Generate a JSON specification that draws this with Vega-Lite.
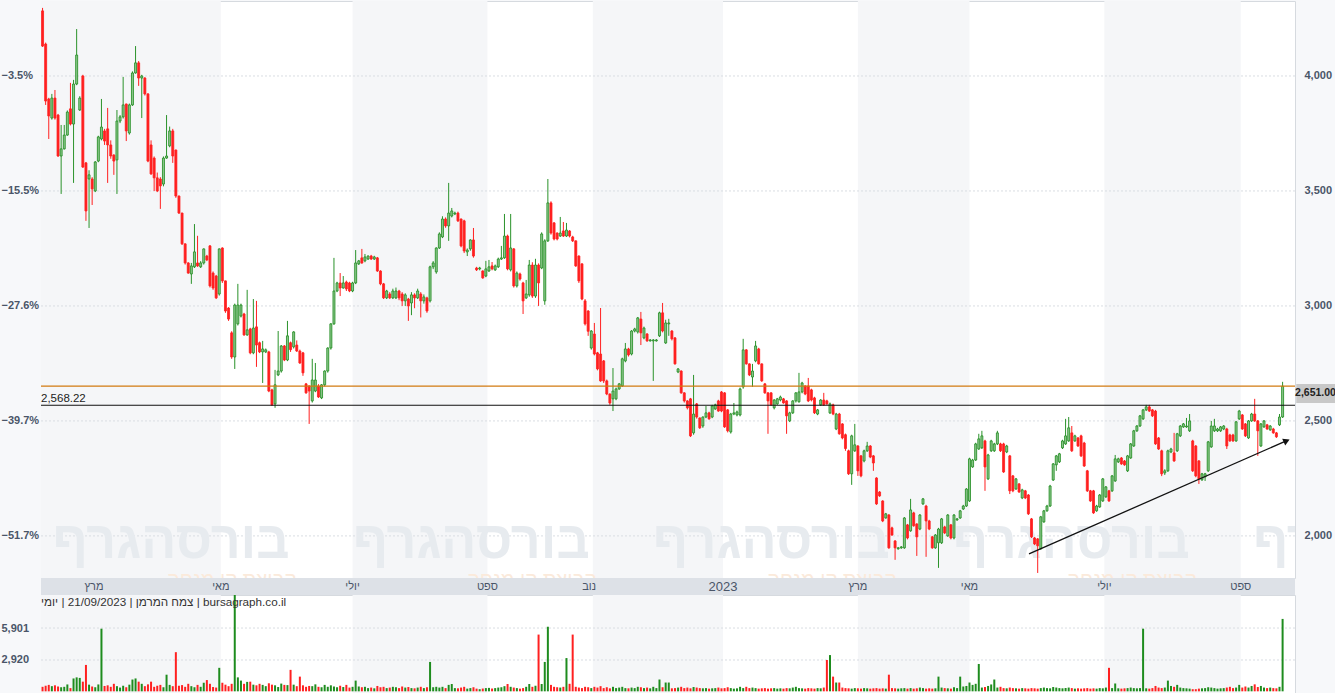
{
"$schema":"https://vega.github.io/schema/vega-lite/v6.json",
"background":"#f7f8fa",
"padding":0,
"autosize":{"type":"pad"},
"spacing":0,
"bounds":"flush",
"config":{"font":"Liberation Sans","view":{"stroke":null},"scale":{"continuousPadding":0}},
"datasets":{
"c":[
{"i":0,"o":4283,"h":4296,"l":4126,"c":4130,"v":420},
{"i":1,"o":4139,"h":4145,"l":3874,"c":3891,"v":520},
{"i":2,"o":3900,"h":3905,"l":3726,"c":3826,"v":600},
{"i":3,"o":3817,"h":3922,"l":3810,"c":3904,"v":480},
{"i":4,"o":3904,"h":3939,"l":3810,"c":3817,"v":560},
{"i":5,"o":3830,"h":3835,"l":3648,"c":3652,"v":450},
{"i":6,"o":3652,"h":3787,"l":3487,"c":3683,"v":380},
{"i":7,"o":3683,"h":3787,"l":3680,"c":3743,"v":420},
{"i":8,"o":3743,"h":3850,"l":3740,"c":3843,"v":640},
{"i":9,"o":3857,"h":3970,"l":3785,"c":3791,"v":300},
{"i":10,"o":3791,"h":3983,"l":3535,"c":3965,"v":1200},
{"i":11,"o":3965,"h":4204,"l":3960,"c":4091,"v":1300},
{"i":12,"o":3852,"h":3912,"l":3848,"c":3904,"v":1250},
{"i":13,"o":4000,"h":4005,"l":3600,"c":3604,"v":900},
{"i":14,"o":3622,"h":3626,"l":3370,"c":3413,"v":2460},
{"i":15,"o":3552,"h":3590,"l":3339,"c":3570,"v":620},
{"i":16,"o":3552,"h":3560,"l":3439,"c":3509,"v":450},
{"i":17,"o":3500,"h":3630,"l":3495,"c":3626,"v":380},
{"i":18,"o":3630,"h":3740,"l":3625,"c":3735,"v":640},
{"i":19,"o":3726,"h":3900,"l":3720,"c":3778,"v":5840},
{"i":20,"o":3761,"h":3770,"l":3700,"c":3717,"v":500},
{"i":21,"o":3770,"h":3861,"l":3535,"c":3700,"v":560},
{"i":22,"o":3700,"h":3720,"l":3640,"c":3652,"v":420},
{"i":23,"o":3656,"h":3660,"l":3570,"c":3630,"v":700},
{"i":24,"o":3635,"h":3852,"l":3487,"c":3804,"v":480},
{"i":25,"o":3804,"h":3830,"l":3795,"c":3822,"v":350},
{"i":26,"o":3822,"h":3996,"l":3815,"c":3874,"v":520},
{"i":27,"o":3878,"h":3880,"l":3717,"c":3761,"v":380},
{"i":28,"o":3752,"h":3880,"l":3745,"c":3874,"v":620},
{"i":29,"o":3874,"h":4020,"l":3870,"c":4013,"v":1100},
{"i":30,"o":4013,"h":4130,"l":4010,"c":4057,"v":1200},
{"i":31,"o":4057,"h":4065,"l":3957,"c":3991,"v":900},
{"i":32,"o":3991,"h":4005,"l":3817,"c":4000,"v":700},
{"i":33,"o":3991,"h":3995,"l":3915,"c":3922,"v":480},
{"i":34,"o":3922,"h":3925,"l":3625,"c":3630,"v":650},
{"i":35,"o":3700,"h":3720,"l":3570,"c":3574,"v":900},
{"i":36,"o":3643,"h":3650,"l":3500,"c":3557,"v":420},
{"i":37,"o":3557,"h":3580,"l":3495,"c":3500,"v":520},
{"i":38,"o":3552,"h":3560,"l":3422,"c":3522,"v":600},
{"i":39,"o":3530,"h":3650,"l":3520,"c":3643,"v":380},
{"i":40,"o":3643,"h":3830,"l":3640,"c":3652,"v":1550},
{"i":41,"o":3696,"h":3780,"l":3690,"c":3761,"v":600},
{"i":42,"o":3761,"h":3770,"l":3622,"c":3652,"v":480},
{"i":43,"o":3678,"h":3680,"l":3470,"c":3478,"v":3650},
{"i":44,"o":3478,"h":3480,"l":3400,"c":3404,"v":520},
{"i":45,"o":3404,"h":3405,"l":3265,"c":3270,"v":580},
{"i":46,"o":3270,"h":3272,"l":3180,"c":3187,"v":420},
{"i":47,"o":3187,"h":3190,"l":3140,"c":3143,"v":700},
{"i":48,"o":3139,"h":3187,"l":3096,"c":3174,"v":480},
{"i":49,"o":3170,"h":3356,"l":3165,"c":3235,"v":380},
{"i":50,"o":3187,"h":3305,"l":3170,"c":3174,"v":600},
{"i":51,"o":3170,"h":3195,"l":3165,"c":3187,"v":420},
{"i":52,"o":3187,"h":3250,"l":3180,"c":3248,"v":800},
{"i":53,"o":3217,"h":3222,"l":3195,"c":3200,"v":1050},
{"i":54,"o":3261,"h":3265,"l":3080,"c":3087,"v":700},
{"i":55,"o":3143,"h":3150,"l":3070,"c":3078,"v":400},
{"i":56,"o":3130,"h":3135,"l":3030,"c":3035,"v":350},
{"i":57,"o":3052,"h":3250,"l":3045,"c":3248,"v":2190},
{"i":58,"o":3252,"h":3255,"l":3100,"c":3109,"v":800},
{"i":59,"o":3109,"h":3110,"l":2970,"c":2978,"v":620},
{"i":60,"o":2991,"h":2995,"l":2935,"c":2943,"v":480},
{"i":61,"o":2883,"h":2890,"l":2770,"c":2778,"v":700},
{"i":62,"o":2778,"h":3010,"l":2726,"c":3004,"v":9500},
{"i":63,"o":2922,"h":3096,"l":2915,"c":3004,"v":1300},
{"i":64,"o":2956,"h":3010,"l":2950,"c":3004,"v":1000},
{"i":65,"o":2965,"h":2970,"l":2870,"c":2874,"v":700},
{"i":66,"o":2874,"h":3070,"l":2870,"c":2896,"v":880},
{"i":67,"o":2900,"h":2905,"l":2790,"c":2796,"v":900},
{"i":68,"o":2796,"h":3030,"l":2790,"c":2904,"v":620},
{"i":69,"o":2909,"h":3022,"l":2735,"c":2830,"v":560},
{"i":70,"o":2840,"h":2845,"l":2795,"c":2800,"v":700},
{"i":71,"o":2800,"h":2848,"l":2665,"c":2813,"v":600},
{"i":72,"o":2800,"h":2815,"l":2795,"c":2809,"v":480},
{"i":73,"o":2800,"h":2805,"l":2625,"c":2630,"v":750},
{"i":74,"o":2635,"h":2640,"l":2565,"c":2570,"v":620},
{"i":75,"o":2574,"h":2722,"l":2557,"c":2657,"v":560},
{"i":76,"o":2700,"h":2891,"l":2695,"c":2717,"v":400},
{"i":77,"o":2717,"h":2830,"l":2710,"c":2826,"v":720},
{"i":78,"o":2826,"h":2830,"l":2760,"c":2765,"v":600},
{"i":79,"o":2765,"h":2935,"l":2760,"c":2870,"v":580},
{"i":80,"o":2840,"h":2845,"l":2800,"c":2810,"v":2000},
{"i":81,"o":2822,"h":2890,"l":2815,"c":2887,"v":620},
{"i":82,"o":2830,"h":2850,"l":2800,"c":2804,"v":480},
{"i":83,"o":2804,"h":2810,"l":2748,"c":2752,"v":1370},
{"i":84,"o":2796,"h":2800,"l":2696,"c":2709,"v":560},
{"i":85,"o":2661,"h":2665,"l":2618,"c":2622,"v":420},
{"i":86,"o":2652,"h":2655,"l":2487,"c":2630,"v":500},
{"i":87,"o":2587,"h":2770,"l":2580,"c":2678,"v":480},
{"i":88,"o":2630,"h":2752,"l":2625,"c":2678,"v":650},
{"i":89,"o":2652,"h":2660,"l":2600,"c":2604,"v":420},
{"i":90,"o":2600,"h":2660,"l":2595,"c":2657,"v":380},
{"i":91,"o":2657,"h":2720,"l":2650,"c":2717,"v":600},
{"i":92,"o":2717,"h":2820,"l":2710,"c":2817,"v":420},
{"i":93,"o":2817,"h":2925,"l":2810,"c":2922,"v":560},
{"i":94,"o":2922,"h":3209,"l":2918,"c":3065,"v":450},
{"i":95,"o":3065,"h":3105,"l":3060,"c":3100,"v":380},
{"i":96,"o":3100,"h":3143,"l":3043,"c":3078,"v":520},
{"i":97,"o":3078,"h":3130,"l":3075,"c":3100,"v":400},
{"i":98,"o":3104,"h":3110,"l":3065,"c":3074,"v":600},
{"i":99,"o":3100,"h":3105,"l":3060,"c":3065,"v":350},
{"i":100,"o":3065,"h":3105,"l":3060,"c":3100,"v":420},
{"i":101,"o":3100,"h":3243,"l":3095,"c":3187,"v":1000},
{"i":102,"o":3183,"h":3200,"l":3178,"c":3196,"v":450},
{"i":103,"o":3209,"h":3248,"l":3183,"c":3187,"v":380},
{"i":104,"o":3196,"h":3226,"l":3190,"c":3213,"v":420},
{"i":105,"o":3204,"h":3220,"l":3200,"c":3217,"v":300},
{"i":106,"o":3217,"h":3222,"l":3200,"c":3204,"v":350},
{"i":107,"o":3204,"h":3218,"l":3200,"c":3213,"v":280},
{"i":108,"o":3209,"h":3213,"l":3148,"c":3152,"v":500},
{"i":109,"o":3152,"h":3155,"l":3090,"c":3096,"v":380},
{"i":110,"o":3096,"h":3100,"l":3030,"c":3035,"v":420},
{"i":111,"o":3035,"h":3070,"l":3030,"c":3065,"v":300},
{"i":112,"o":3052,"h":3060,"l":3030,"c":3035,"v":350},
{"i":113,"o":3035,"h":3075,"l":3030,"c":3065,"v":420},
{"i":114,"o":3035,"h":3080,"l":3030,"c":3065,"v":380},
{"i":115,"o":3065,"h":3070,"l":3025,"c":3035,"v":300},
{"i":116,"o":3052,"h":3060,"l":3000,"c":3022,"v":450},
{"i":117,"o":3022,"h":3055,"l":3000,"c":3048,"v":350},
{"i":118,"o":3030,"h":3035,"l":2935,"c":3000,"v":400},
{"i":119,"o":3013,"h":3060,"l":2960,"c":3048,"v":300},
{"i":120,"o":3048,"h":3055,"l":2990,"c":3035,"v":280},
{"i":121,"o":3035,"h":3075,"l":3030,"c":3065,"v":350},
{"i":122,"o":3052,"h":3060,"l":2950,"c":3022,"v":420},
{"i":123,"o":3022,"h":3050,"l":3010,"c":3039,"v":300},
{"i":124,"o":3035,"h":3040,"l":2970,"c":2978,"v":380},
{"i":125,"o":3022,"h":3175,"l":3015,"c":3170,"v":2740},
{"i":126,"o":3170,"h":3195,"l":3160,"c":3187,"v":380},
{"i":127,"o":3148,"h":3255,"l":3140,"c":3252,"v":420},
{"i":128,"o":3252,"h":3320,"l":3248,"c":3313,"v":350},
{"i":129,"o":3300,"h":3390,"l":3295,"c":3378,"v":420},
{"i":130,"o":3378,"h":3385,"l":3340,"c":3348,"v":300},
{"i":131,"o":3348,"h":3535,"l":3283,"c":3404,"v":600},
{"i":132,"o":3391,"h":3426,"l":3385,"c":3413,"v":680},
{"i":133,"o":3400,"h":3410,"l":3395,"c":3404,"v":300},
{"i":134,"o":3404,"h":3410,"l":3365,"c":3370,"v":280},
{"i":135,"o":3378,"h":3380,"l":3255,"c":3261,"v":350},
{"i":136,"o":3370,"h":3375,"l":3230,"c":3239,"v":420},
{"i":137,"o":3235,"h":3250,"l":3217,"c":3243,"v":250},
{"i":138,"o":3248,"h":3290,"l":3240,"c":3287,"v":300},
{"i":139,"o":3287,"h":3339,"l":3210,"c":3217,"v":380},
{"i":140,"o":3165,"h":3170,"l":3152,"c":3157,"v":250},
{"i":141,"o":3161,"h":3170,"l":3155,"c":3165,"v":200},
{"i":142,"o":3152,"h":3155,"l":3118,"c":3122,"v":260},
{"i":143,"o":3130,"h":3196,"l":3125,"c":3161,"v":300},
{"i":144,"o":3152,"h":3200,"l":3148,"c":3170,"v":320},
{"i":145,"o":3174,"h":3191,"l":3155,"c":3161,"v":260},
{"i":146,"o":3157,"h":3180,"l":3152,"c":3174,"v":300},
{"i":147,"o":3170,"h":3210,"l":3165,"c":3204,"v":350},
{"i":148,"o":3204,"h":3261,"l":3200,"c":3209,"v":380},
{"i":149,"o":3209,"h":3400,"l":3205,"c":3304,"v":480},
{"i":150,"o":3304,"h":3310,"l":3155,"c":3161,"v":680},
{"i":151,"o":3157,"h":3400,"l":3150,"c":3252,"v":420},
{"i":152,"o":3248,"h":3252,"l":3080,"c":3087,"v":350},
{"i":153,"o":3087,"h":3150,"l":3080,"c":3143,"v":300},
{"i":154,"o":3139,"h":3145,"l":3110,"c":3117,"v":250},
{"i":155,"o":3100,"h":3105,"l":2965,"c":3022,"v":300},
{"i":156,"o":3035,"h":3113,"l":3030,"c":3052,"v":420},
{"i":157,"o":3048,"h":3200,"l":3040,"c":3178,"v":680},
{"i":158,"o":3178,"h":3190,"l":3035,"c":3043,"v":420},
{"i":159,"o":3043,"h":3205,"l":3035,"c":3178,"v":520},
{"i":160,"o":3178,"h":3185,"l":3000,"c":3100,"v":5290},
{"i":161,"o":3165,"h":3320,"l":3160,"c":3313,"v":680},
{"i":162,"o":3022,"h":3290,"l":3005,"c":3283,"v":2740},
{"i":163,"o":3283,"h":3552,"l":3278,"c":3448,"v":6020},
{"i":164,"o":3448,"h":3455,"l":3310,"c":3317,"v":600},
{"i":165,"o":3361,"h":3365,"l":3285,"c":3291,"v":420},
{"i":166,"o":3317,"h":3320,"l":3285,"c":3291,"v":380},
{"i":167,"o":3304,"h":3387,"l":3300,"c":3317,"v":350},
{"i":168,"o":3326,"h":3365,"l":3300,"c":3304,"v":420},
{"i":169,"o":3304,"h":3361,"l":3300,"c":3330,"v":3100},
{"i":170,"o":3326,"h":3330,"l":3298,"c":3304,"v":700},
{"i":171,"o":3300,"h":3305,"l":3278,"c":3283,"v":5290},
{"i":172,"o":3283,"h":3285,"l":3170,"c":3174,"v":420},
{"i":173,"o":3217,"h":3220,"l":3100,"c":3109,"v":350},
{"i":174,"o":3183,"h":3185,"l":3025,"c":3030,"v":300},
{"i":175,"o":3022,"h":3030,"l":2915,"c":2922,"v":420},
{"i":176,"o":2978,"h":2982,"l":2870,"c":2890,"v":380},
{"i":177,"o":2817,"h":2895,"l":2810,"c":2891,"v":300},
{"i":178,"o":2878,"h":2926,"l":2785,"c":2791,"v":420},
{"i":179,"o":2796,"h":2800,"l":2720,"c":2726,"v":350},
{"i":180,"o":2791,"h":2991,"l":2670,"c":2674,"v":480},
{"i":181,"o":2761,"h":2765,"l":2665,"c":2674,"v":300},
{"i":182,"o":2674,"h":2680,"l":2612,"c":2617,"v":380},
{"i":183,"o":2617,"h":2620,"l":2570,"c":2578,"v":280},
{"i":184,"o":2596,"h":2730,"l":2543,"c":2630,"v":420},
{"i":185,"o":2596,"h":2645,"l":2590,"c":2639,"v":300},
{"i":186,"o":2639,"h":2665,"l":2635,"c":2661,"v":350},
{"i":187,"o":2652,"h":2775,"l":2648,"c":2770,"v":420},
{"i":188,"o":2761,"h":2839,"l":2755,"c":2813,"v":300},
{"i":189,"o":2813,"h":2818,"l":2780,"c":2787,"v":280},
{"i":190,"o":2791,"h":2895,"l":2785,"c":2891,"v":350},
{"i":191,"o":2891,"h":2905,"l":2885,"c":2900,"v":300},
{"i":192,"o":2887,"h":2952,"l":2880,"c":2948,"v":420},
{"i":193,"o":2943,"h":2974,"l":2830,"c":2883,"v":380},
{"i":194,"o":2861,"h":2910,"l":2855,"c":2904,"v":300},
{"i":195,"o":2878,"h":2882,"l":2844,"c":2848,"v":350},
{"i":196,"o":2848,"h":2856,"l":2845,"c":2852,"v":280},
{"i":197,"o":2848,"h":2856,"l":2674,"c":2852,"v":420},
{"i":198,"o":2848,"h":2856,"l":2845,"c":2852,"v":300},
{"i":199,"o":2870,"h":2975,"l":2865,"c":2970,"v":1100},
{"i":200,"o":2970,"h":3013,"l":2885,"c":2891,"v":380},
{"i":201,"o":2839,"h":2940,"l":2835,"c":2926,"v":820},
{"i":202,"o":2922,"h":2944,"l":2870,"c":2926,"v":820},
{"i":203,"o":2891,"h":2895,"l":2850,"c":2857,"v":280},
{"i":204,"o":2861,"h":2865,"l":2745,"c":2748,"v":300},
{"i":205,"o":2713,"h":2730,"l":2708,"c":2726,"v":350},
{"i":206,"o":2717,"h":2720,"l":2618,"c":2622,"v":420},
{"i":207,"o":2622,"h":2625,"l":2580,"c":2587,"v":300},
{"i":208,"o":2587,"h":2590,"l":2550,"c":2557,"v":350},
{"i":209,"o":2596,"h":2600,"l":2430,"c":2435,"v":280},
{"i":210,"o":2448,"h":2700,"l":2440,"c":2530,"v":400},
{"i":211,"o":2574,"h":2578,"l":2510,"c":2517,"v":350},
{"i":212,"o":2513,"h":2515,"l":2465,"c":2470,"v":300},
{"i":213,"o":2478,"h":2520,"l":2470,"c":2517,"v":280},
{"i":214,"o":2517,"h":2565,"l":2512,"c":2535,"v":300},
{"i":215,"o":2535,"h":2540,"l":2505,"c":2509,"v":250},
{"i":216,"o":2517,"h":2570,"l":2512,"c":2565,"v":280},
{"i":217,"o":2552,"h":2575,"l":2548,"c":2570,"v":300},
{"i":218,"o":2587,"h":2592,"l":2540,"c":2543,"v":350},
{"i":219,"o":2626,"h":2630,"l":2538,"c":2543,"v":280},
{"i":220,"o":2622,"h":2625,"l":2470,"c":2474,"v":300},
{"i":221,"o":2548,"h":2552,"l":2450,"c":2457,"v":380},
{"i":222,"o":2452,"h":2535,"l":2445,"c":2530,"v":300},
{"i":223,"o":2530,"h":2578,"l":2525,"c":2535,"v":250},
{"i":224,"o":2526,"h":2545,"l":2520,"c":2539,"v":280},
{"i":225,"o":2526,"h":2645,"l":2520,"c":2639,"v":420},
{"i":226,"o":2648,"h":2857,"l":2640,"c":2809,"v":300},
{"i":227,"o":2809,"h":2812,"l":2745,"c":2748,"v":420},
{"i":228,"o":2748,"h":2750,"l":2695,"c":2700,"v":300},
{"i":229,"o":2691,"h":2748,"l":2648,"c":2717,"v":350},
{"i":230,"o":2761,"h":2848,"l":2755,"c":2826,"v":300},
{"i":231,"o":2813,"h":2818,"l":2745,"c":2748,"v":250},
{"i":232,"o":2748,"h":2750,"l":2670,"c":2674,"v":280},
{"i":233,"o":2661,"h":2665,"l":2618,"c":2622,"v":300},
{"i":234,"o":2622,"h":2625,"l":2444,"c":2587,"v":250},
{"i":235,"o":2622,"h":2625,"l":2565,"c":2570,"v":280},
{"i":236,"o":2557,"h":2595,"l":2550,"c":2591,"v":300},
{"i":237,"o":2574,"h":2600,"l":2570,"c":2596,"v":250},
{"i":238,"o":2591,"h":2610,"l":2585,"c":2604,"v":280},
{"i":239,"o":2596,"h":2600,"l":2575,"c":2578,"v":250},
{"i":240,"o":2587,"h":2590,"l":2444,"c":2522,"v":300},
{"i":241,"o":2500,"h":2540,"l":2495,"c":2535,"v":280},
{"i":242,"o":2535,"h":2590,"l":2530,"c":2587,"v":350},
{"i":243,"o":2587,"h":2625,"l":2580,"c":2622,"v":420},
{"i":244,"o":2583,"h":2709,"l":2580,"c":2626,"v":300},
{"i":245,"o":2626,"h":2670,"l":2620,"c":2665,"v":280},
{"i":246,"o":2652,"h":2655,"l":2612,"c":2617,"v":250},
{"i":247,"o":2652,"h":2687,"l":2582,"c":2587,"v":300},
{"i":248,"o":2635,"h":2640,"l":2585,"c":2591,"v":280},
{"i":249,"o":2600,"h":2605,"l":2530,"c":2535,"v":250},
{"i":250,"o":2530,"h":2552,"l":2525,"c":2548,"v":300},
{"i":251,"o":2570,"h":2595,"l":2565,"c":2591,"v":280},
{"i":252,"o":2591,"h":2622,"l":2565,"c":2570,"v":350},
{"i":253,"o":2587,"h":2592,"l":2570,"c":2574,"v":2920},
{"i":254,"o":2535,"h":2580,"l":2530,"c":2574,"v":3380},
{"i":255,"o":2570,"h":2575,"l":2525,"c":2530,"v":1370},
{"i":256,"o":2465,"h":2535,"l":2460,"c":2530,"v":820},
{"i":257,"o":2530,"h":2535,"l":2440,"c":2444,"v":820},
{"i":258,"o":2487,"h":2490,"l":2420,"c":2426,"v":350},
{"i":259,"o":2440,"h":2445,"l":2370,"c":2380,"v":300},
{"i":260,"o":2370,"h":2375,"l":2265,"c":2270,"v":280},
{"i":261,"o":2270,"h":2440,"l":2222,"c":2435,"v":250},
{"i":262,"o":2370,"h":2487,"l":2365,"c":2396,"v":300},
{"i":263,"o":2391,"h":2395,"l":2261,"c":2283,"v":280},
{"i":264,"o":2348,"h":2352,"l":2255,"c":2261,"v":250},
{"i":265,"o":2326,"h":2375,"l":2320,"c":2370,"v":300},
{"i":266,"o":2370,"h":2409,"l":2365,"c":2391,"v":280},
{"i":267,"o":2391,"h":2395,"l":2338,"c":2343,"v":250},
{"i":268,"o":2348,"h":2352,"l":2283,"c":2317,"v":280},
{"i":269,"o":2252,"h":2255,"l":2135,"c":2139,"v":300},
{"i":270,"o":2191,"h":2195,"l":2170,"c":2174,"v":250},
{"i":271,"o":2152,"h":2155,"l":2060,"c":2065,"v":280},
{"i":272,"o":2078,"h":2100,"l":2075,"c":2096,"v":250},
{"i":273,"o":2091,"h":2095,"l":1944,"c":1948,"v":1550},
{"i":274,"o":2035,"h":2040,"l":2000,"c":2004,"v":300},
{"i":275,"o":1978,"h":1982,"l":1896,"c":1948,"v":280},
{"i":276,"o":1944,"h":1952,"l":1940,"c":1948,"v":250},
{"i":277,"o":1948,"h":1956,"l":1944,"c":1952,"v":280},
{"i":278,"o":1948,"h":2082,"l":1944,"c":2078,"v":300},
{"i":279,"o":2048,"h":2052,"l":1985,"c":1991,"v":250},
{"i":280,"o":2022,"h":2161,"l":2018,"c":2113,"v":300},
{"i":281,"o":2100,"h":2105,"l":2040,"c":2044,"v":250},
{"i":282,"o":2052,"h":2055,"l":1913,"c":1996,"v":280},
{"i":283,"o":2030,"h":2095,"l":2025,"c":2091,"v":350},
{"i":284,"o":2139,"h":2165,"l":2135,"c":2161,"v":300},
{"i":285,"o":2130,"h":2135,"l":1909,"c":2065,"v":250},
{"i":286,"o":2065,"h":2070,"l":2025,"c":2030,"v":280},
{"i":287,"o":1996,"h":2000,"l":1944,"c":1948,"v":250},
{"i":288,"o":1948,"h":2008,"l":1944,"c":2004,"v":280},
{"i":289,"o":1970,"h":2035,"l":1861,"c":2030,"v":1370},
{"i":290,"o":1970,"h":2078,"l":1965,"c":2074,"v":350},
{"i":291,"o":2039,"h":2044,"l":2008,"c":2013,"v":300},
{"i":292,"o":2000,"h":2095,"l":1996,"c":2091,"v":280},
{"i":293,"o":2048,"h":2052,"l":1985,"c":1991,"v":250},
{"i":294,"o":1991,"h":2095,"l":1985,"c":2091,"v":380},
{"i":295,"o":2070,"h":2078,"l":2065,"c":2074,"v":300},
{"i":296,"o":2078,"h":2113,"l":2074,"c":2109,"v":1370},
{"i":297,"o":2117,"h":2135,"l":2113,"c":2130,"v":450},
{"i":298,"o":2130,"h":2208,"l":2126,"c":2204,"v":500},
{"i":299,"o":2152,"h":2340,"l":2148,"c":2335,"v":820},
{"i":300,"o":2300,"h":2335,"l":2296,"c":2330,"v":600},
{"i":301,"o":2330,"h":2405,"l":2326,"c":2400,"v":700},
{"i":302,"o":2378,"h":2444,"l":2374,"c":2422,"v":2550},
{"i":303,"o":2383,"h":2457,"l":2378,"c":2435,"v":350},
{"i":304,"o":2413,"h":2418,"l":2196,"c":2300,"v":400},
{"i":305,"o":2248,"h":2357,"l":2243,"c":2352,"v":500},
{"i":306,"o":2370,"h":2418,"l":2365,"c":2413,"v":640},
{"i":307,"o":2370,"h":2405,"l":2365,"c":2400,"v":1100},
{"i":308,"o":2400,"h":2457,"l":2395,"c":2448,"v":350},
{"i":309,"o":2400,"h":2405,"l":2365,"c":2370,"v":420},
{"i":310,"o":2400,"h":2405,"l":2274,"c":2278,"v":300},
{"i":311,"o":2365,"h":2396,"l":2360,"c":2391,"v":280},
{"i":312,"o":2348,"h":2352,"l":2182,"c":2196,"v":350},
{"i":313,"o":2261,"h":2265,"l":2190,"c":2196,"v":300},
{"i":314,"o":2204,"h":2252,"l":2200,"c":2248,"v":280},
{"i":315,"o":2226,"h":2230,"l":2187,"c":2191,"v":250},
{"i":316,"o":2165,"h":2205,"l":2160,"c":2200,"v":300},
{"i":317,"o":2196,"h":2200,"l":2160,"c":2165,"v":280},
{"i":318,"o":2178,"h":2182,"l":2091,"c":2096,"v":250},
{"i":319,"o":2074,"h":2078,"l":1991,"c":1996,"v":300},
{"i":320,"o":1991,"h":1995,"l":1960,"c":1965,"v":280},
{"i":321,"o":1987,"h":1991,"l":1839,"c":1957,"v":250},
{"i":322,"o":1944,"h":2087,"l":1940,"c":2083,"v":300},
{"i":323,"o":2061,"h":2113,"l":2057,"c":2109,"v":350},
{"i":324,"o":2109,"h":2135,"l":2105,"c":2130,"v":300},
{"i":325,"o":2130,"h":2222,"l":2126,"c":2217,"v":280},
{"i":326,"o":2243,"h":2317,"l":2239,"c":2313,"v":400},
{"i":327,"o":2309,"h":2352,"l":2283,"c":2348,"v":350},
{"i":328,"o":2322,"h":2361,"l":2317,"c":2357,"v":300},
{"i":329,"o":2383,"h":2418,"l":2378,"c":2413,"v":280},
{"i":330,"o":2400,"h":2509,"l":2396,"c":2435,"v":300},
{"i":331,"o":2413,"h":2517,"l":2409,"c":2470,"v":350},
{"i":332,"o":2448,"h":2478,"l":2365,"c":2370,"v":300},
{"i":333,"o":2413,"h":2440,"l":2409,"c":2435,"v":250},
{"i":334,"o":2426,"h":2430,"l":2387,"c":2391,"v":280},
{"i":335,"o":2435,"h":2440,"l":2343,"c":2348,"v":250},
{"i":336,"o":2404,"h":2409,"l":2300,"c":2304,"v":280},
{"i":337,"o":2283,"h":2287,"l":2191,"c":2196,"v":300},
{"i":338,"o":2196,"h":2200,"l":2148,"c":2152,"v":250},
{"i":339,"o":2196,"h":2200,"l":2096,"c":2100,"v":280},
{"i":340,"o":2109,"h":2135,"l":2105,"c":2130,"v":250},
{"i":341,"o":2126,"h":2182,"l":2122,"c":2178,"v":300},
{"i":342,"o":2152,"h":2252,"l":2148,"c":2248,"v":280},
{"i":343,"o":2170,"h":2217,"l":2165,"c":2213,"v":350},
{"i":344,"o":2196,"h":2200,"l":2148,"c":2152,"v":2190},
{"i":345,"o":2196,"h":2265,"l":2191,"c":2261,"v":300},
{"i":346,"o":2239,"h":2352,"l":2235,"c":2335,"v":730},
{"i":347,"o":2322,"h":2340,"l":2317,"c":2335,"v":280},
{"i":348,"o":2339,"h":2343,"l":2309,"c":2313,"v":250},
{"i":349,"o":2326,"h":2330,"l":2305,"c":2309,"v":280},
{"i":350,"o":2283,"h":2352,"l":2278,"c":2348,"v":300},
{"i":351,"o":2339,"h":2404,"l":2335,"c":2400,"v":350},
{"i":352,"o":2391,"h":2461,"l":2387,"c":2457,"v":300},
{"i":353,"o":2457,"h":2482,"l":2452,"c":2478,"v":280},
{"i":354,"o":2478,"h":2526,"l":2474,"c":2522,"v":300},
{"i":355,"o":2509,"h":2552,"l":2504,"c":2548,"v":5840},
{"i":356,"o":2548,"h":2570,"l":2543,"c":2561,"v":280},
{"i":357,"o":2561,"h":2570,"l":2539,"c":2543,"v":250},
{"i":358,"o":2548,"h":2552,"l":2517,"c":2522,"v":300},
{"i":359,"o":2543,"h":2548,"l":2396,"c":2400,"v":500},
{"i":360,"o":2426,"h":2430,"l":2374,"c":2378,"v":350},
{"i":361,"o":2370,"h":2375,"l":2260,"c":2270,"v":300},
{"i":362,"o":2274,"h":2290,"l":2265,"c":2283,"v":350},
{"i":363,"o":2283,"h":2375,"l":2278,"c":2370,"v":1000},
{"i":364,"o":2365,"h":2383,"l":2360,"c":2378,"v":500},
{"i":365,"o":2361,"h":2448,"l":2322,"c":2326,"v":420},
{"i":366,"o":2370,"h":2448,"l":2365,"c":2444,"v":600},
{"i":367,"o":2435,"h":2482,"l":2430,"c":2478,"v":350},
{"i":368,"o":2474,"h":2491,"l":2470,"c":2487,"v":300},
{"i":369,"o":2474,"h":2513,"l":2470,"c":2478,"v":280},
{"i":370,"o":2457,"h":2530,"l":2452,"c":2500,"v":250},
{"i":371,"o":2413,"h":2418,"l":2278,"c":2283,"v":200},
{"i":372,"o":2391,"h":2395,"l":2255,"c":2261,"v":200},
{"i":373,"o":2326,"h":2330,"l":2226,"c":2248,"v":250},
{"i":374,"o":2244,"h":2274,"l":2239,"c":2270,"v":280},
{"i":375,"o":2257,"h":2274,"l":2239,"c":2270,"v":300},
{"i":376,"o":2283,"h":2413,"l":2278,"c":2409,"v":380},
{"i":377,"o":2387,"h":2500,"l":2383,"c":2478,"v":350},
{"i":378,"o":2457,"h":2509,"l":2452,"c":2478,"v":300},
{"i":379,"o":2457,"h":2470,"l":2452,"c":2465,"v":250},
{"i":380,"o":2457,"h":2478,"l":2452,"c":2474,"v":280},
{"i":381,"o":2465,"h":2482,"l":2460,"c":2478,"v":300},
{"i":382,"o":2465,"h":2470,"l":2378,"c":2391,"v":350},
{"i":383,"o":2439,"h":2444,"l":2409,"c":2413,"v":420},
{"i":384,"o":2439,"h":2444,"l":2409,"c":2413,"v":300},
{"i":385,"o":2413,"h":2500,"l":2409,"c":2496,"v":350},
{"i":386,"o":2509,"h":2548,"l":2504,"c":2543,"v":600},
{"i":387,"o":2526,"h":2530,"l":2461,"c":2465,"v":350},
{"i":388,"o":2487,"h":2491,"l":2430,"c":2435,"v":450},
{"i":389,"o":2426,"h":2504,"l":2422,"c":2500,"v":350},
{"i":390,"o":2500,"h":2535,"l":2496,"c":2530,"v":500},
{"i":391,"o":2530,"h":2596,"l":2496,"c":2500,"v":650},
{"i":392,"o":2500,"h":2504,"l":2348,"c":2457,"v":400},
{"i":393,"o":2391,"h":2491,"l":2387,"c":2487,"v":500},
{"i":394,"o":2474,"h":2504,"l":2470,"c":2500,"v":350},
{"i":395,"o":2483,"h":2487,"l":2461,"c":2465,"v":300},
{"i":396,"o":2461,"h":2482,"l":2457,"c":2478,"v":350},
{"i":397,"o":2465,"h":2470,"l":2444,"c":2448,"v":300},
{"i":398,"o":2448,"h":2452,"l":2426,"c":2431,"v":280},
{"i":399,"o":2483,"h":2530,"l":2478,"c":2517,"v":420},
{"i":400,"o":2517,"h":2670,"l":2513,"c":2651,"v":6750}
],
"bands":[{"a":-0.5,"b":57.5},{"a":100,"b":143.5},{"a":177.5,"b":219.5},{"a":263,"b":299},{"a":342.5,"b":386.5}],
"months":[{"m":"מרץ","x":16.6},{"m":"מאי","x":57.5},{"m":"יולי","x":100},{"m":"ספט","x":143.5},{"m":"נוב","x":176.3},{"m":"2023","x":219.5},{"m":"מרץ","x":263},{"m":"מאי","x":299},{"m":"יולי","x":342.5},{"m":"ספט","x":386.5}],
"wm":[{"x":41.5},{"x":138.3},{"x":235.1},{"x":331.9},{"x":428.7}],
"wm2":[{"x":61},{"x":157.8},{"x":254.6},{"x":351.4},{"x":448.2}],
"grid":[{"g":2000},{"g":2500},{"g":3000},{"g":3500},{"g":4000}],
"vgrid":[{"g":2920},{"g":5901}],
"trend":[{"i":318.2,"p":1922},{"i":400.8,"p":2411}],
"one":[{"k":1}]
},
"vconcat":[
{
"width":1254,"height":577,
"view":{"fill":"#ffffff","stroke":"#d6dadf"},
"resolve":{"axis":{"y":"independent"}},
"layer":[
{"data":{"name":"bands"},"mark":{"type":"rect","color":"#f5f6f8"},
 "encoding":{"x":{"field":"a","type":"quantitative","scale":{"domain":[-0.5,404],"nice":false,"zero":false,"padding":0},"axis":null},"x2":{"field":"b"}}},
{"data":{"name":"grid"},"mark":{"type":"rule","color":"#d9dde2","strokeDash":[2,2],"strokeWidth":1},
 "encoding":{"y":{"field":"g","type":"quantitative","scale":{"domain":[1817,4326],"nice":false,"zero":false},"axis":null}}},
{"data":{"name":"wm"},"mark":{"type":"text","text":"בורסהגרף","fontSize":52,"fontWeight":"bold","color":"#e7ebef","clip":true,"baseline":"middle","align":"center"},
 "encoding":{"x":{"field":"x","type":"quantitative","axis":null},"y":{"datum":1975,"type":"quantitative","axis":null}}},
{"data":{"name":"wm2"},"mark":{"type":"text","text":"קבוצת קו מנחה","fontSize":20,"color":"#fbeadb","clip":true,"baseline":"middle","align":"center"},
 "encoding":{"x":{"field":"x","type":"quantitative","axis":null},"y":{"datum":1810,"type":"quantitative","axis":null}}},
{"data":{"name":"c"},"mark":{"type":"rule","strokeWidth":1},
 "encoding":{"x":{"field":"i","type":"quantitative","axis":null},
  "y":{"field":"l","type":"quantitative","scale":{"domain":[1817,4326],"nice":false,"zero":false},
   "axis":{"orient":"left","values":[2000,2500,3000,3500,4000],"labelExpr":"format((datum.value/4144-1)*100,'.1f')+'%'","domain":false,"ticks":false,"grid":false,"labelAlign":"left","labelPadding":40,"labelColor":"#4a5568","labelFontSize":11,"labelFontWeight":"bold","minExtent":40,"maxExtent":40,"title":null}},
  "y2":{"field":"h"},
  "color":{"condition":{"test":"datum.c>=datum.o","value":"#2a922a"},"value":"#ff2020"}}},
{"data":{"name":"c"},"mark":{"type":"bar","size":2,"strokeWidth":0.8},
 "encoding":{"x":{"field":"i","type":"quantitative","axis":null},
  "y":{"field":"o","type":"quantitative","scale":{"domain":[1817,4326],"nice":false,"zero":false},
   "axis":{"orient":"right","values":[2000,2500,3000,3500,4000],"labelExpr":"format(datum.value,',')","domain":false,"ticks":false,"grid":false,"labelAlign":"left","labelPadding":9,"labelColor":"#4a5568","labelFontSize":11,"labelFontWeight":"bold","minExtent":41,"maxExtent":41,"title":null}},
  "y2":{"field":"c"},
  "fill":{"condition":{"test":"datum.c>=datum.o","value":"#8cc68c"},"value":"#ff2020"},
  "stroke":{"condition":{"test":"datum.c>=datum.o","value":"#1e8c1e"},"value":"#ff2020"}}},
{"data":{"name":"one"},"mark":{"type":"rule","color":"#d27a10","strokeWidth":1.2},"encoding":{"y":{"datum":2651,"type":"quantitative","axis":null}}},
{"data":{"name":"one"},"mark":{"type":"rule","color":"#111111","strokeWidth":1.2},"encoding":{"y":{"datum":2568.22,"type":"quantitative","axis":null}}},
{"data":{"name":"trend"},"mark":{"type":"line","color":"#111111","strokeWidth":1.3},
 "encoding":{"x":{"field":"i","type":"quantitative","axis":null},"y":{"field":"p","type":"quantitative","axis":null}}},
{"data":{"values":[{"i":401.3,"p":2414}]},"mark":{"type":"point","shape":"triangle-right","filled":true,"color":"#111111","size":55,"angle":336,"opacity":1},
 "encoding":{"x":{"field":"i","type":"quantitative","axis":null},"y":{"field":"p","type":"quantitative","axis":null}}},
{"data":{"name":"one"},"mark":{"type":"text","text":"2,568.22","align":"left","baseline":"bottom","dy":-1,"fontSize":11.5,"color":"#222222"},
 "encoding":{"x":{"datum":-0.5,"type":"quantitative","axis":null},"y":{"datum":2568.22,"type":"quantitative","axis":null}}},
{"data":{"name":"one"},"mark":{"type":"rect","color":"#c8c8c8"},
 "encoding":{"x":{"datum":404.4,"type":"quantitative","axis":null},"x2":{"datum":417.5},"y":{"datum":2661,"type":"quantitative","axis":null},"y2":{"datum":2578}}},
{"data":{"name":"one"},"mark":{"type":"text","text":"2,651.00","align":"right","baseline":"middle","dx":0,"fontSize":10.5,"fontWeight":"bold","color":"#222222"},
 "encoding":{"x":{"datum":417.2,"type":"quantitative","axis":null},"y":{"datum":2620,"type":"quantitative","axis":null}}}
]
},
{
"width":1254,"height":17,
"view":{"fill":"#dde1e7","stroke":null},
"data":{"name":"months"},
"mark":{"type":"text","baseline":"middle","align":"center","color":"#4a5568"},
"encoding":{
 "x":{"field":"x","type":"quantitative","scale":{"domain":[-0.5,404],"nice":false,"zero":false,"padding":0},"axis":null},
 "y":{"datum":0,"type":"quantitative","scale":{"domain":[-1,1]},"axis":{"orient":"left","labels":false,"ticks":false,"domain":false,"grid":false,"title":null,"minExtent":40,"maxExtent":40}},
 "text":{"field":"m"},
 "size":{"condition":{"test":"datum.m=='2023'","value":13},"value":11}
}
},
{
"width":1254,"height":99,
"view":{"fill":"#ffffff","stroke":"#d6dadf"},
"resolve":{"axis":{"y":"independent"}},
"layer":[
{"data":{"name":"bands"},"mark":{"type":"rect","color":"#f5f6f8"},
 "encoding":{"x":{"field":"a","type":"quantitative","scale":{"domain":[-0.5,404],"nice":false,"zero":false,"padding":0},"axis":null},"x2":{"field":"b"}}},
{"data":{"name":"vgrid"},"mark":{"type":"rule","color":"#d9dde2","strokeDash":[2,2],"strokeWidth":1},
 "encoding":{"y":{"field":"g","type":"quantitative","scale":{"domain":[-250,8980],"nice":false,"zero":false},"axis":null}}},
{"data":{"name":"c"},"mark":{"type":"bar","size":2,"clip":true},
 "encoding":{"x":{"field":"i","type":"quantitative","axis":null},
  "y":{"field":"v","type":"quantitative","scale":{"domain":[-250,8980],"nice":false,"zero":false},
   "axis":{"orient":"left","values":[2920,5901],"labelExpr":"format(datum.value,',')","domain":false,"ticks":false,"grid":false,"labelAlign":"left","labelPadding":40,"labelColor":"#4a5568","labelFontSize":11,"labelFontWeight":"bold","minExtent":40,"maxExtent":40,"title":null}},
  "y2":{"datum":0},
  "color":{"condition":{"test":"datum.c>=datum.o","value":"#1e8c1e"},"value":"#ff2020"}}},
{"data":{"name":"one"},"mark":{"type":"text","text":"יומי‎ | 21/09/2023 | צמח המרמן‎ | bursagraph.co.il","align":"left","baseline":"middle","fontSize":11.7,"color":"#333333"},
 "encoding":{"x":{"datum":-0.5,"type":"quantitative","axis":null},"y":{"datum":8350,"type":"quantitative","axis":null}}}
]
}
]
}
